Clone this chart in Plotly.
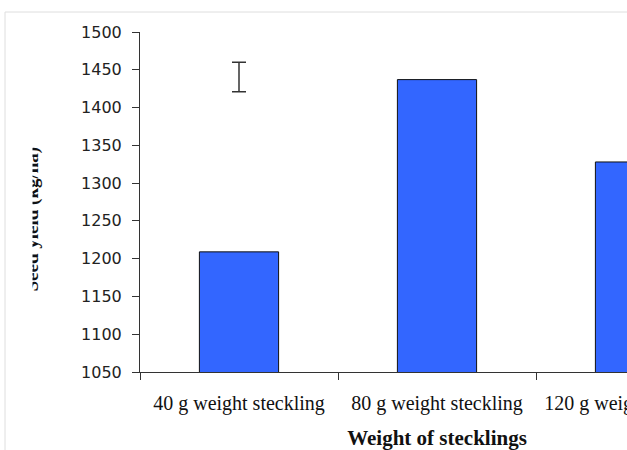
import plotly.graph_objects as go

# ---- data ----
categories = ["40 g weight steckling", "80 g weight steckling", "120 g weight steckling"]
seed_yield = [1209, 1437, 1328]
lsd_top = 1460
lsd_bottom = 1421
x_title = "Weight of stecklings"
y_title = "Seed yield (kg/ha)"
y_min, y_max, y_step = 1050, 1500, 50

# ---- geometry (pixels) ----
FIG_W, FIG_H = 764, 450
M_L, M_R, M_T, M_B = 140, 30, 32, 78
PW = FIG_W - M_L - M_R
PH = FIG_H - M_T - M_B


def px(xp):
    return (xp - M_L) / PW


def py(yp):
    return (FIG_H - M_B - yp) / PH


lsd_center = (lsd_top + lsd_bottom) / 2
lsd_half = (lsd_top - lsd_bottom) / 2

fig = go.Figure()
fig.add_trace(go.Bar(
    x=categories, y=seed_yield, width=0.4,
    marker=dict(color="#3366FF", line=dict(color="#111111", width=1)),
    showlegend=False, hoverinfo="x+y",
))
fig.add_trace(go.Scatter(
    x=[categories[0]], y=[lsd_center], mode="markers",
    marker=dict(opacity=0, size=2),
    error_y=dict(type="data", array=[lsd_half], color="#333333", thickness=1.5, width=7),
    showlegend=False, hoverinfo="skip",
))

axis_color = "#333333"
fig.update_layout(
    width=FIG_W, height=FIG_H,
    margin=dict(l=M_L, r=M_R, t=M_T, b=M_B, pad=0),
    paper_bgcolor="white", plot_bgcolor="white",
    xaxis=dict(
        type="category", range=[-0.5, 2.5], automargin=False,
        showline=True, linecolor=axis_color, linewidth=1,
        ticks="outside", tickson="boundaries", ticklen=7, tickcolor=axis_color, tickwidth=1,
        showgrid=False, zeroline=False,
        tickfont=dict(family="Liberation Serif", size=20, color="#111111"),
        ticklabelstandoff=13,
        title=dict(text=x_title, standoff=16,
                   font=dict(family="Liberation Serif", size=21, color="#111111", weight="bold")),
    ),
    yaxis=dict(
        range=[y_min, y_max], dtick=y_step, tick0=y_min, automargin=False,
        showline=True, linecolor=axis_color, linewidth=1,
        ticks="outside", ticklen=7, tickcolor=axis_color, tickwidth=1,
        showgrid=False, zeroline=False,
        tickfont=dict(family="DejaVu Sans", size=16, color="#222222"),
        ticklabelstandoff=7,
    ),
    shapes=[
        dict(type="line", xref="paper", yref="paper", x0=px(5), x1=px(FIG_W), y0=py(12), y1=py(12),
             line=dict(color="#dedede", width=1)),
        dict(type="line", xref="paper", yref="paper", x0=px(5), x1=px(5), y0=py(12), y1=py(FIG_H),
             line=dict(color="#dedede", width=1)),
    ],
    annotations=[
        dict(text=y_title, textangle=-90, xref="paper", yref="paper",
             x=px(31), y=py(219.5), xanchor="center", yanchor="middle", showarrow=False,
             font=dict(family="Liberation Serif", size=19, color="#111111", weight="bold")),
        dict(text="\u00a0", xref="paper", yref="paper", x=px(6), y=py(219.5),
             xanchor="left", yanchor="middle", showarrow=False, width=25, height=200,
             bgcolor="white", borderpad=0, font=dict(size=10)),
    ],
)

fig.write_html(
    "out.html",
    config={"displayModeBar": False},
    post_script="document.body.style.margin='0';document.body.style.overflow='hidden';"
                "document.documentElement.style.overflow='hidden';",
)
